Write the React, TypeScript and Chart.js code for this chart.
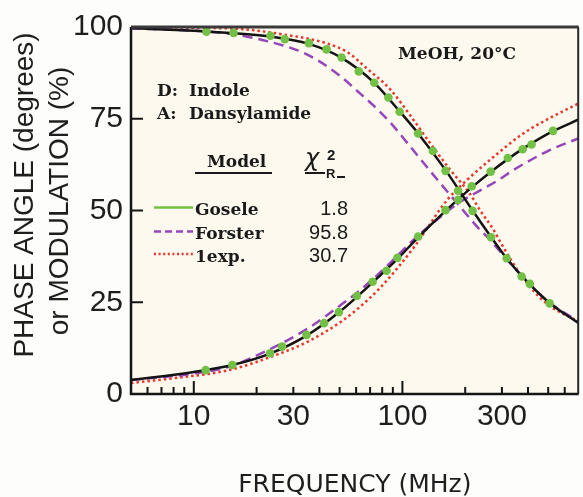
import React, { useEffect, useRef } from "react";
import { Chart, registerables } from "chart.js";

Chart.register(...registerables);

// ---------- data ----------
const xTickLabels = [10, 30, 100, 300];
const xMajorTicks = [10, 100];
const xMinorTicks = [6, 7, 8, 9, 20, 30, 40, 50, 60, 70, 80, 90, 200, 300, 400, 500, 600];
const yInnerTicks = [25, 50, 75];

// Gosele fit (black solid)
const gosPhaseF = [5, 10, 15.3, 23.2, 34.7, 50, 72, 94.7, 119, 161, 215, 265, 320, 377, 416, 527, 700];
const gosPhaseV = [3.8, 6.0, 7.9, 11.0, 15.9, 22.4, 30.4, 36.8, 42.7, 49.9, 56.3, 60.5, 64.0, 66.8, 68.3, 71.6, 74.8];
const gosModF = [5, 10, 11.5, 23.3, 35.6, 51.1, 73.3, 97, 119, 161, 217, 266, 316, 373, 508, 700];
const gosModV = [99.7, 99.0, 98.8, 97.4, 95.4, 91.6, 84.8, 77.0, 71.0, 61.0, 50.0, 42.8, 37.0, 32.2, 24.8, 19.3];

// Forster fit (purple dashed)
const forPhaseF = [5, 10, 14.7, 22.8, 35.3, 50.8, 59.7, 78.9, 118, 158, 183, 236, 283, 340, 490, 700];
const forPhaseV = [3.8, 5.6, 7.4, 12.0, 17.9, 24.3, 27.3, 33.3, 43.0, 49.0, 51.8, 55.5, 58.0, 61.0, 66.0, 69.7];
const forModF = [5, 10, 15, 23, 35, 51, 59, 73, 88, 106, 127, 152, 183, 228, 263, 340, 490, 700];
const forModV = [99.6, 99.0, 98.1, 96.0, 92.5, 86.4, 83.2, 78.5, 73.8, 68.3, 62.8, 57.4, 52.0, 45.6, 42.0, 34.7, 25.6, 19.7];

// single exponential fit (red dotted)
const expPhaseF = [5, 8, 14.7, 23.6, 35.3, 50.8, 61, 79, 114, 164, 204, 263, 380, 490, 700];
const expPhaseV = [3.0, 4.3, 6.5, 10.2, 14.3, 19.7, 23.2, 29.2, 40.1, 52.9, 58.3, 63.8, 71.0, 74.7, 79.2];
const expModF = [5, 15, 28, 43, 55, 66, 88, 110, 136, 170, 211, 236, 273, 294, 380, 490, 700];
const expModV = [99.9, 99.6, 97.8, 95.6, 93.0, 89.2, 82.8, 75.6, 68.3, 61.0, 54.5, 50.0, 44.8, 41.5, 31.5, 24.7, 19.7];

// measured data (green dots)
const dataPhaseF = [11.4, 15.3, 23.2, 26.5, 34.7, 42.1, 49.6, 60.5, 72, 84, 94.7, 119, 161, 185, 215, 265, 320, 377, 416, 527];
const dataPhaseV = [6.5, 7.9, 11.1, 12.9, 16.1, 19.3, 22.3, 26.7, 30.6, 33.6, 37.1, 42.9, 50.1, 52.9, 56.6, 60.6, 64.3, 66.7, 68.0, 71.7];
const dataModF = [11.5, 15.5, 23.3, 27.3, 35.6, 43.3, 51.1, 61.8, 73.3, 85.7, 97, 119, 140, 161, 185, 217, 266, 316, 373, 408, 508];
const dataModV = [98.7, 98.4, 97.6, 96.7, 95.6, 93.9, 91.7, 87.9, 84.8, 80.8, 76.9, 71.0, 66.2, 60.8, 55.4, 49.9, 42.7, 37.0, 32.0, 30.0, 24.7];

const legendModels = ["Gosele", "Forster", "1exp."];
const legendChi = ["1.8", "95.8", "30.7"];

// ---------- styles ----------
const W = 583;
const H = 497;
const GREEN = "#72c045";
const PURPLE = "#9646b9";
const RED = "#e8362c";
const BLACK = "#141414";
const SANS = '"Liberation Sans Narrow", "Liberation Sans", Arial, sans-serif';
const SERIF = '"DejaVu Serif", "Liberation Serif", serif';

const pts = (f: number[], v: number[]) => f.map((x, i) => ({ x, y: v[i] }));

const bgPlugin = {
  id: "bgPlugin",
  beforeDraw(chart: any) {
    const { ctx, chartArea: a } = chart;
    ctx.save();
    ctx.fillStyle = "#fdfdfc";
    ctx.fillRect(0, 0, W, H);
    ctx.fillStyle = "#fdf9ee";
    ctx.fillRect(a.left, a.top, a.right - a.left, a.bottom - a.top);
    ctx.restore();
  },
};

const framePlugin = {
  id: "framePlugin",
  afterDraw(chart: any) {
    const { ctx, chartArea: a, scales } = chart;
    const xs = scales.x;
    const ys = scales.y;
    ctx.save();
    // ticks
    ctx.strokeStyle = BLACK;
    ctx.lineWidth = 2;
    ctx.beginPath();
    xMajorTicks.forEach((v) => {
      const px = xs.getPixelForValue(v);
      ctx.moveTo(px, a.bottom);
      ctx.lineTo(px, a.bottom - 13);
    });
    xMinorTicks.forEach((v) => {
      const px = xs.getPixelForValue(v);
      ctx.moveTo(px, a.bottom);
      ctx.lineTo(px, a.bottom - 7);
    });
    yInnerTicks.forEach((v) => {
      const py = ys.getPixelForValue(v);
      ctx.moveTo(a.left, py);
      ctx.lineTo(a.left + 12, py);
    });
    ctx.stroke();
    // frame
    ctx.lineWidth = 2.5;
    ctx.strokeStyle = BLACK;
    ctx.beginPath();
    ctx.moveTo(a.left, a.top);
    ctx.lineTo(a.left, a.bottom);
    ctx.lineTo(a.right, a.bottom);
    ctx.stroke();
    ctx.lineWidth = 2;
    ctx.strokeStyle = "#2a2a2a";
    ctx.beginPath();
    ctx.moveTo(a.right - 0.5, a.bottom);
    ctx.lineTo(a.right - 0.5, a.top);
    ctx.stroke();
    ctx.lineWidth = 3;
    ctx.strokeStyle = "#3a3a3a";
    ctx.beginPath();
    ctx.moveTo(a.left, a.top);
    ctx.lineTo(a.right, a.top);
    ctx.stroke();

    // y axis title (two lines, rotated)
    ctx.fillStyle = "#1e1e1e";
    ctx.textAlign = "center";
    ctx.textBaseline = "middle";
    ctx.font = '28px "Liberation Sans", Arial, sans-serif';
    ctx.save();
    ctx.translate(25, 195);
    ctx.rotate(-Math.PI / 2);
    ctx.fillText("PHASE ANGLE (degrees)", 0, 0);
    ctx.restore();
    ctx.save();
    ctx.translate(60, 201);
    ctx.rotate(-Math.PI / 2);
    ctx.fillText("or MODULATION (%)", 0, 0);
    ctx.restore();

    // annotations
    ctx.textAlign = "left";
    ctx.textBaseline = "alphabetic";
    ctx.fillStyle = "#1a1a1a";
    ctx.font = "bold 17px " + SERIF;
    ctx.fillText("D:", 157, 96);
    ctx.fillText("Indole", 189, 96);
    ctx.fillText("A:", 157, 119);
    ctx.fillText("Dansylamide", 189, 119);
    ctx.fillText("MeOH, 20\u00b0C", 398, 59);
    ctx.fillText("Model", 207, 167);

    ctx.lineWidth = 1.8;
    ctx.strokeStyle = "#1a1a1a";
    ctx.beginPath();
    ctx.moveTo(195, 173);
    ctx.lineTo(272, 173);
    ctx.moveTo(305, 173);
    ctx.lineTo(325, 173);
    ctx.moveTo(337, 177);
    ctx.lineTo(345, 177);
    ctx.stroke();

    ctx.font = 'italic 24px "DejaVu Sans", sans-serif';
    ctx.fillText("\u03c7", 305, 166);
    ctx.font = 'bold 15px "Liberation Sans", sans-serif';
    ctx.fillText("2", 327, 160);
    ctx.font = 'bold 13px "Liberation Sans", sans-serif';
    ctx.fillText("R", 326, 178);

    // legend rows
    const rowBase = [215, 239, 262];
    const rowLine = [207.5, 231.5, 254];
    const styles = [
      { c: GREEN, d: [] as number[] },
      { c: PURPLE, d: [7, 4] },
      { c: RED, d: [2, 2.6] },
    ];
    legendModels.forEach((m, i) => {
      ctx.save();
      ctx.strokeStyle = styles[i].c;
      ctx.lineWidth = 2.4;
      ctx.setLineDash(styles[i].d);
      ctx.beginPath();
      ctx.moveTo(154, rowLine[i]);
      ctx.lineTo(193, rowLine[i]);
      ctx.stroke();
      ctx.restore();
      ctx.font = "bold 17px " + SERIF;
      ctx.textAlign = "left";
      ctx.fillText(m, 195, rowBase[i]);
      ctx.font = '20px "Liberation Sans", Arial, sans-serif';
      ctx.textAlign = "right";
      ctx.fillText(legendChi[i], 348, rowBase[i]);
    });
    ctx.restore();
  },
};

export default function App() {
  const ref = useRef<HTMLCanvasElement | null>(null);

  useEffect(() => {
    if (!ref.current) return;
    const lineBase = {
      showLine: true,
      pointRadius: 0,
      fill: false,
      cubicInterpolationMode: "monotone" as const,
    };
    const chart = new Chart(ref.current, {
      type: "line",
      data: {
        datasets: [
          {
            label: "data phase",
            data: pts(dataPhaseF, dataPhaseV),
            showLine: false,
            pointRadius: 4.3,
            pointBackgroundColor: GREEN,
            pointBorderWidth: 0,
            order: 0,
          },
          {
            label: "data modulation",
            data: pts(dataModF, dataModV),
            showLine: false,
            pointRadius: 4.3,
            pointBackgroundColor: GREEN,
            pointBorderWidth: 0,
            order: 0,
          },
          { ...lineBase, label: "Gosele phase", data: pts(gosPhaseF, gosPhaseV), borderColor: BLACK, borderWidth: 2.5, order: 1 },
          { ...lineBase, label: "Gosele modulation", data: pts(gosModF, gosModV), borderColor: BLACK, borderWidth: 2.5, order: 1 },
          { ...lineBase, label: "Forster phase", data: pts(forPhaseF, forPhaseV), borderColor: PURPLE, borderWidth: 2.5, borderDash: [10, 6], order: 2 },
          { ...lineBase, label: "Forster modulation", data: pts(forModF, forModV), borderColor: PURPLE, borderWidth: 2.5, borderDash: [10, 6], order: 2 },
          { ...lineBase, label: "1exp phase", data: pts(expPhaseF, expPhaseV), borderColor: RED, borderWidth: 2.5, borderDash: [2.5, 3], order: 3 },
          { ...lineBase, label: "1exp modulation", data: pts(expModF, expModV), borderColor: RED, borderWidth: 2.5, borderDash: [2.5, 3], order: 3 },
        ],
      },
      options: {
        responsive: false,
        animation: false,
        devicePixelRatio: 1,
        layout: { padding: { top: 27, right: 1, left: 0, bottom: 0 } },
        plugins: { legend: { display: false }, tooltip: { enabled: false } },
        scales: {
          x: {
            type: "logarithmic",
            position: "bottom",
            min: 5,
            max: 700,
            grid: { display: false, drawTicks: false },
            border: { display: false },
            afterBuildTicks: (s: any) => {
              s.ticks = xTickLabels.map((v) => ({ value: v }));
            },
            afterFit: (s: any) => {
              s.height = 103;
            },
            ticks: {
              autoSkip: false,
              maxRotation: 0,
              padding: 5,
              color: "#1e1e1e",
              font: { family: SANS, size: 30 },
              callback: (v: any) => String(v),
            },
            title: {
              display: true,
              text: "FREQUENCY (MHz)",
              color: "#1e1e1e",
              font: { family: '"DejaVu Sans", sans-serif', size: 25, lineHeight: 0.9 },
              padding: { top: 0, bottom: 0 },
            },
          },
          y: {
            min: 0,
            max: 100,
            grid: { display: false, drawTicks: false },
            border: { display: false },
            afterFit: (s: any) => {
              s.width = 131;
            },
            ticks: {
              stepSize: 25,
              padding: 8,
              color: "#1e1e1e",
              font: { family: SANS, size: 30 },
            },
          },
        },
      },
      plugins: [bgPlugin, framePlugin],
    });
    return () => chart.destroy();
  }, []);

  return (
    <div style={{ position: "absolute", left: 0, top: 0, width: W, height: H }}>
      <canvas ref={ref} width={W} height={H} style={{ width: W, height: H, display: "block" }} />
    </div>
  );
}
